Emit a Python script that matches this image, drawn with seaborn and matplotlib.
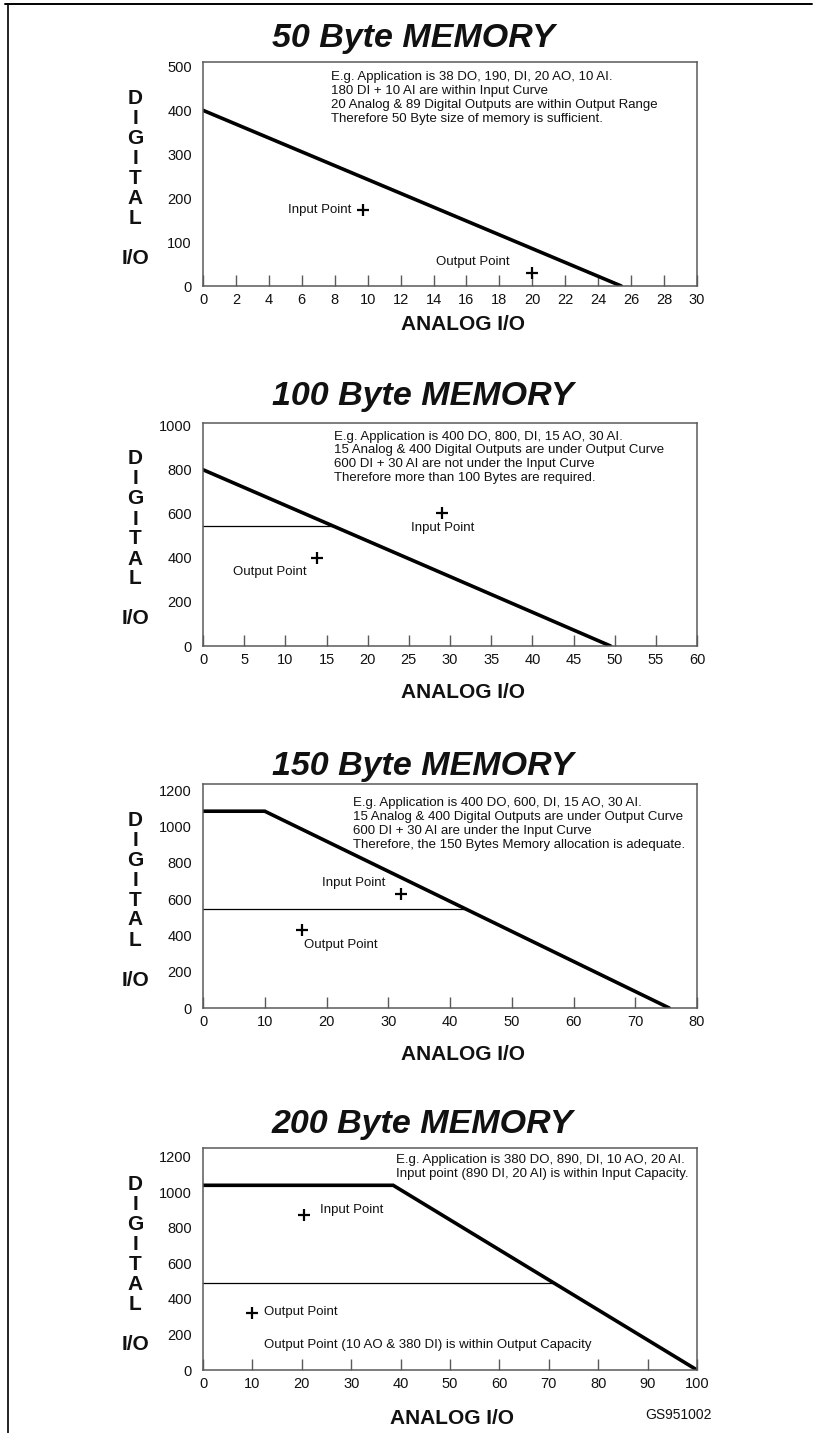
import matplotlib
matplotlib.use("Agg")
import matplotlib.pyplot as plt
import seaborn as sns
import pandas as pd

sns.set_theme(style="white")
plt.rcParams['font.family'] = ['Liberation Sans', 'DejaVu Sans']

# ---------------- data ----------------
titles = ["50 Byte MEMORY", "100 Byte MEMORY", "150 Byte MEMORY", "200 Byte MEMORY"]

# capacity curves (analog, digital)
curve1_x = [0, 25.4];            curve1_y = [400, 0]
curve2_x = [0, 49.5];            curve2_y = [800, 0]
curve3_x = [0, 10, 75.5];        curve3_y = [1085, 1085, 0]
curve4_x = [0, 38.5, 100];       curve4_y = [1040, 1040, 0]

# thin output-range lines (level) for panels 2-4
out_level2 = 545
out_level3 = 545
out_level4 = 492

# points
input_pts = [(9.7, 172), (29, 604), (32, 630), (20.5, 875)]
output_pts = [(20, 30), (13.9, 400), (16, 430), (9.9, 322)]

x_ticks = [list(range(0, 31, 2)), list(range(0, 61, 5)), list(range(0, 81, 10)), list(range(0, 101, 10))]
y_ticks = [list(range(0, 501, 100)), list(range(0, 1001, 200)), list(range(0, 1201, 200)), list(range(0, 1201, 200))]
x_lims = [30, 60, 80, 100]
y_lims = [510, 1012, 1235, 1250]

notes = [
    "E.g. Application is 38 DO, 190, DI, 20 AO, 10 AI.\n180 DI + 10 AI are within Input Curve\n"
    "20 Analog & 89 Digital Outputs are within Output Range\nTherefore 50 Byte size of memory is sufficient.",
    "E.g. Application is 400 DO, 800, DI, 15 AO, 30 AI.\n15 Analog & 400 Digital Outputs are under Output Curve\n"
    "600 DI + 30 AI are not under the Input Curve\nTherefore more than 100 Bytes are required.",
    "E.g. Application is 400 DO, 600, DI, 15 AO, 30 AI.\n15 Analog & 400 Digital Outputs are under Output Curve\n"
    "600 DI + 30 AI are under the Input Curve\nTherefore, the 150 Bytes Memory allocation is adequate.",
    "E.g. Application is 380 DO, 890, DI, 10 AO, 20 AI.\nInput point (890 DI, 20 AI) is within Input Capacity.",
]
note_pos = [(7.8, 428), (15.9, 856), (24.3, 1015), (39.0, 1142)]
extra_note4 = "Output Point (10 AO & 380 DI) is within Output Capacity"

# ---------------- layout ----------------
W, H = 813, 1433
fig = plt.figure(figsize=(W / 100, H / 100), dpi=100)

axes_px = [(62, 286), (423, 646), (784, 1008), (1148, 1370)]  # top, bottom
title_y = [38, 397, 767, 1125]
analog_y = [325, 692, 1054, 1418]
analog_x = [463, 463, 463, 452]
left_px, right_px = 203, 697

curves = [(curve1_x, curve1_y), (curve2_x, curve2_y), (curve3_x, curve3_y), (curve4_x, curve4_y)]
levels = [None, out_level2, out_level3, out_level4]

spine_col = "#5a5a5a"

for i in range(4):
    top, bot = axes_px[i]
    ax = fig.add_axes([left_px / W, 1 - bot / H, (right_px - left_px) / W, (bot - top) / H])
    cx, cy = curves[i]
    df = pd.DataFrame({"x": cx, "y": cy})
    sns.lineplot(data=df, x="x", y="y", ax=ax, color="black", linewidth=2.6, sort=False,
                 estimator=None, solid_joinstyle="miter")
    if levels[i] is not None:
        lv = levels[i]
        xs, ys = cx, cy
        xi = None
        for k in range(len(xs) - 1):
            y0, y1 = ys[k], ys[k + 1]
            if (y0 - lv) * (y1 - lv) <= 0 and y0 != y1:
                xi = xs[k] + (lv - y0) * (xs[k + 1] - xs[k]) / (y1 - y0)
                break
        sns.lineplot(x=[0, xi], y=[lv, lv], ax=ax, color="black", linewidth=0.9, estimator=None)
    pts = pd.DataFrame({"x": [input_pts[i][0], output_pts[i][0]], "y": [input_pts[i][1], output_pts[i][1]]})
    sns.scatterplot(data=pts, x="x", y="y", ax=ax, marker="+", s=70, color="black", linewidth=1.6)

    ax.set_xlim(0, x_lims[i])
    ax.set_ylim(0, y_lims[i])
    ax.set_xticks(x_ticks[i])
    ax.set_yticks(y_ticks[i])
    ax.set_xlabel("")
    ax.set_ylabel("")
    ax.tick_params(axis="x", direction="in", length=8, width=1.0, color=spine_col, labelsize=10.5,
                   pad=5, labelcolor="#111111", bottom=True)
    ax.tick_params(axis="y", length=0, labelsize=10.5, pad=8, labelcolor="#111111", left=True)
    for s in ax.spines.values():
        s.set_color(spine_col)
        s.set_linewidth(1.1)
        s.set_visible(True)

    ax.text(note_pos[i][0], note_pos[i][1], notes[i], fontsize=9.5, ha="left", va="center",
            linespacing=1.2, color="#111111")

    fig.text(272 / W, 1 - title_y[i] / H, titles[i], fontsize=24.5, fontweight="bold",
             fontstyle="italic", ha="left", va="center", color="#111111")
    fig.text(analog_x[i] / W, 1 - analog_y[i] / H, "ANALOG I/O", fontsize=15, fontweight="bold",
             ha="center", va="center", color="#111111")
    for j, ch in enumerate("DIGITAL"):
        fig.text(135 / W, 1 - (top + 36 + j * 20) / H, ch, fontsize=15, fontweight="bold",
                 ha="center", va="center", color="#111111")
    fig.text(135 / W, 1 - (top + 196) / H, "I/O", fontsize=15, fontweight="bold",
             ha="center", va="center", color="#111111")

# point labels
axs = fig.axes
lab = dict(fontsize=9.5, color="#111111")
axs[0].text(9.0, 172, "Input Point", ha="right", va="center", **lab)
axs[0].text(16.4, 55, "Output Point", ha="center", va="center", **lab)
axs[1].text(29.1, 536, "Input Point", ha="center", va="center", **lab)
axs[1].text(12.6, 335, "Output Point", ha="right", va="center", **lab)
axs[2].text(29.6, 690, "Input Point", ha="right", va="center", **lab)
axs[2].text(16.3, 345, "Output Point", ha="left", va="center", **lab)
axs[3].text(23.7, 900, "Input Point", ha="left", va="center", **lab)
axs[3].text(12.3, 324, "Output Point", ha="left", va="center", **lab)
axs[3].text(12.3, 143, extra_note4, ha="left", va="center", **lab)

fig.text(678 / W, 1 - 1415 / H, "GS951002", fontsize=10, ha="center", va="center", color="#111111")

# page frame lines (top and left)
fig.add_artist(plt.Line2D([5 / W, 812 / W], [1 - 4 / H, 1 - 4 / H], color="black", linewidth=1.4,
                          transform=fig.transFigure))
fig.add_artist(plt.Line2D([8 / W, 8 / W], [1 - 4 / H, 0], color="black", linewidth=1.2,
                          transform=fig.transFigure))

fig.savefig("out.png", dpi=100, facecolor="white")
